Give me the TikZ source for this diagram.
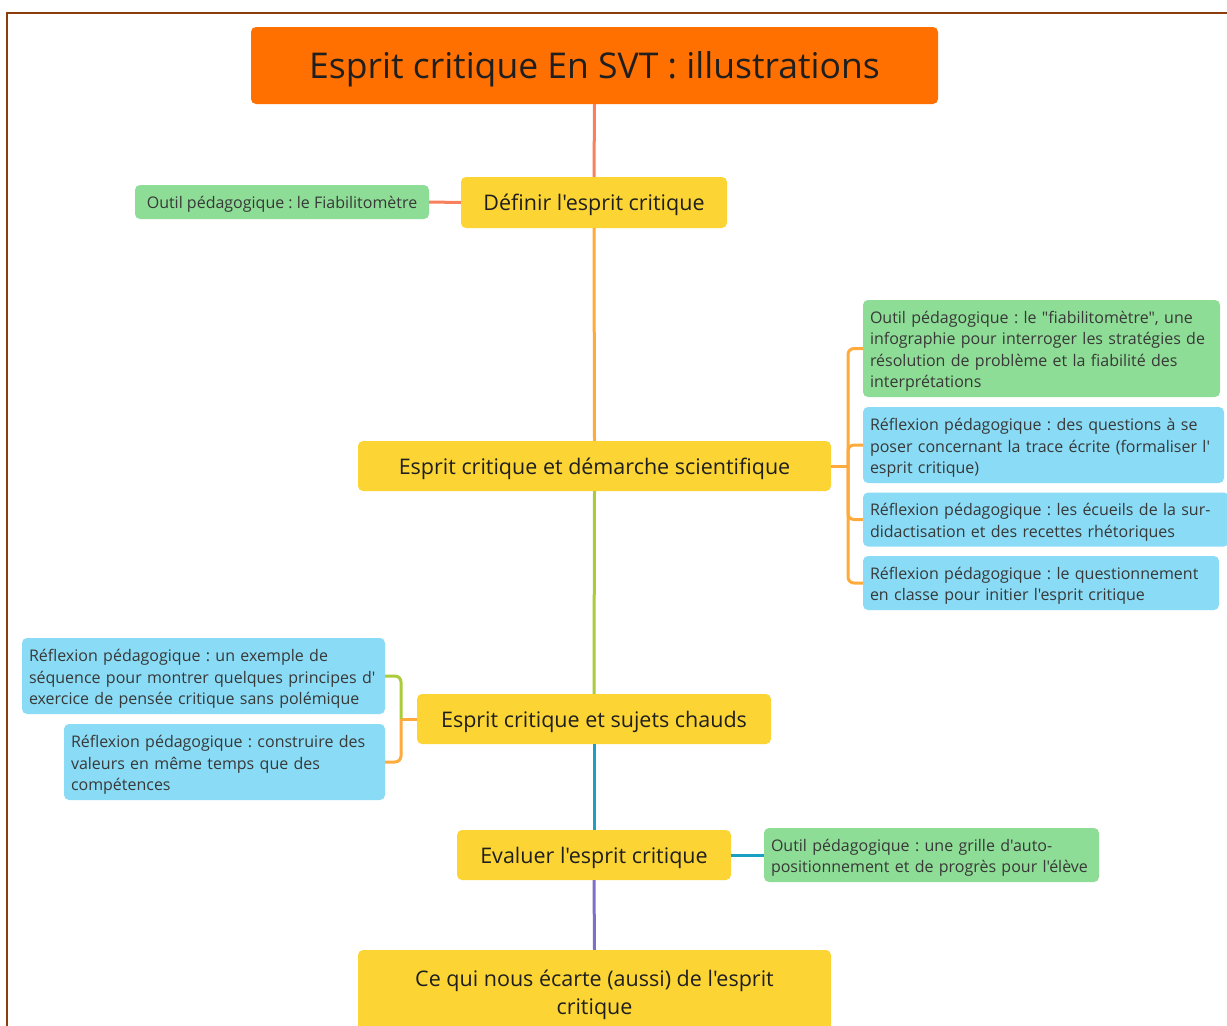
\documentclass[tikz,border=0pt]{standalone}
\usepackage{fontspec}
\setmainfont{Open Sans}[Ligatures=TeXOff]
\frenchspacing
\newcommand\topstrut{\rule{0pt}{18pt}}
\begin{document}
\begin{tikzpicture}[x=1pt,y=-1pt,
  base/.style={rounded corners=5pt, inner sep=0pt, text=black!88},
  oneline/.style={text depth=0pt},
  main/.style={base, oneline, fill=cYel, font=\fontsize{21.5}{26}\selectfont, align=center},
  leaf/.style={base, align=left, inner xsep=7pt, font=\fontsize{16}{21.5}\selectfont, text=black!78},
  green/.style={leaf, fill=cGreen},
  blue/.style={leaf, fill=cBlue},
  conn/.style={line width=3pt, rounded corners=6pt}
]
\definecolor{cYel}{HTML}{FCD535}
\definecolor{cGreen}{HTML}{8EDD96}
\definecolor{cBlue}{HTML}{8ADCF6}
\definecolor{cOrange}{HTML}{FF7000}
\definecolor{cSalmon}{HTML}{F8805C}
\definecolor{cLOr}{HTML}{FFAA3C}
\definecolor{cLime}{HTML}{AACB3A}
\definecolor{cTeal}{HTML}{1AA0C2}
\definecolor{cPurp}{HTML}{7F6FC6}
\definecolor{cBrown}{HTML}{8B3E0C}
\useasboundingbox (0,0) rectangle (1227,1026);
\fill[white] (0,0) rectangle (1227,1026);
\draw[cBrown, line width=2pt] (7,1030) -- (7,13) -- (1230,13);

% main nodes
\node[base, oneline, fill=cOrange, minimum width=687pt, minimum height=77pt, font=\fontsize{35.5}{40}\selectfont] (title) at (594.5,65.5) {Esprit critique En SVT : illustrations};
\node[main, minimum width=266pt, minimum height=51pt] (def) at (594,202.5) {Définir l'esprit critique};
\node[main, minimum width=473pt, minimum height=50pt] (dem) at (594.5,466) {Esprit critique et démarche scientifique};
\node[main, minimum width=354pt, minimum height=50pt] (chaud) at (594,719) {Esprit critique et sujets chauds};
\node[main, minimum width=274pt, minimum height=50pt] (eval) at (594,855) {Evaluer l'esprit critique};
\node[base, fill=cYel, align=center, minimum width=473pt, minimum height=90pt, font=\fontsize{21.5}{28}\selectfont] (ecart) at (594.5,995) {Ce qui nous écarte (aussi) de l'esprit\\critique};

% leaves
\node[green, oneline, minimum width=294pt, minimum height=34pt] (fiab) at (282,202) {Outil pédagogique : le Fiabilitomètre};
\node[green, text width=343pt, minimum height=97pt] (r1) at (1041.5,348.5) {\topstrut Outil pédagogique : le "fiabilitomètre", une\\infographie pour interroger les stratégies de\\résolution de problème et la fiabilité des\\interprétations};
\node[blue, text width=347pt, minimum height=76pt] (r2) at (1043.5,445) {\topstrut Réflexion pédagogique : des questions à se\\poser concernant la trace écrite (formaliser l'\\esprit critique)};
\node[blue, text width=352pt, minimum height=54pt] (r3) at (1046,519.5) {\topstrut Réflexion pédagogique : les écueils de la sur-\\didactisation et des recettes rhétoriques};
\node[blue, text width=342pt, minimum height=54pt] (r4) at (1041,583) {\topstrut Réflexion pédagogique : le questionnement\\en classe pour initier l'esprit critique};
\node[blue, text width=349pt, minimum height=76pt] (la) at (203.5,676) {\topstrut Réflexion pédagogique : un exemple de\\séquence pour montrer quelques principes d'\\exercice de pensée critique sans polémique};
\node[blue, text width=307pt, minimum height=76pt] (lb) at (224.5,762) {\topstrut Réflexion pédagogique : construire des\\valeurs en même temps que des\\compétences};
\node[green, text width=321pt, minimum height=54pt, font=\fontsize{16}{20.5}\selectfont] (grille) at (931.5,855) {\topstrut Outil pédagogique : une grille d'auto-\\positionnement et de progrès pour l'élève};

% connectors
\coordinate (rj) at (848,466);
\coordinate (lj) at (401,719);
\draw[conn, cSalmon] (title.south) -- (def.north);
\draw[conn, cSalmon] (def.west) -- (fiab.east);
\draw[conn, cLOr] (def.south) -- (dem.north);
\draw[conn, cLime] (dem.south) -- (chaud.north);
\draw[conn, cTeal] (chaud.south) -- (eval.north);
\draw[conn, cTeal] (eval.east) -- (grille.west);
\draw[conn, cPurp] (eval.south) -- (ecart.north);
\draw[conn, cLOr] (dem.east) -- (rj);
\draw[conn, cLOr] (rj) |- (r1.west);
\draw[conn, cLOr] (rj) |- (r2.west);
\draw[conn, cLOr] (rj) |- (r3.west);
\draw[conn, cLOr] (rj) |- (r4.west);
\draw[conn, cLOr] (chaud.west) -- (lj);
\draw[conn, cLime] (lj) |- (la.east);
\draw[conn, cLOr] (lj) |- (lb.east);
\end{tikzpicture}
\end{document}
